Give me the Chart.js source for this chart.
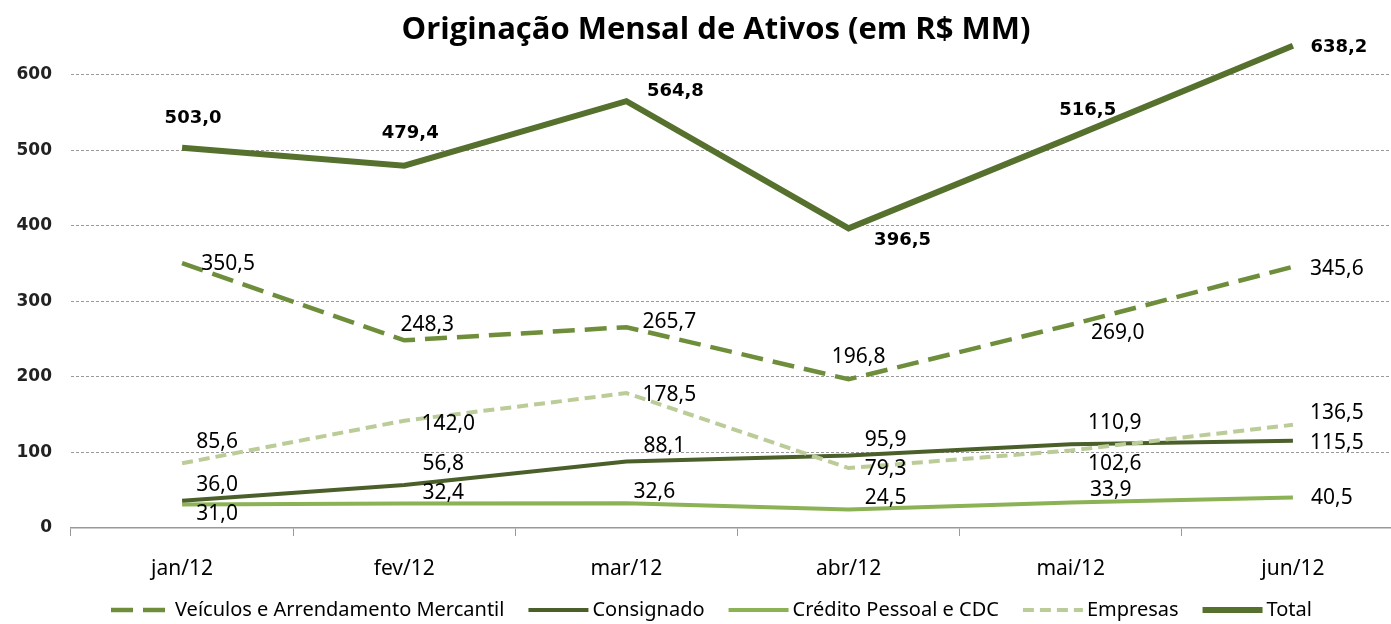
<!DOCTYPE html>
<html>
<head>
<meta charset="utf-8">
<script src="https://cdn.jsdelivr.net/npm/chart.js@4"></script>
<style>
html, body { margin: 0; padding: 0; background: #fff; overflow: hidden; }
#wrap { width: 1404px; height: 624px; position: relative; }
</style>
</head>
<body>
<div id="wrap"><canvas id="chart"></canvas></div>
<script>
// chart data
var months = ["jan/12", "fev/12", "mar/12", "abr/12", "mai/12", "jun/12"];
var veiculos = [350.5, 248.3, 265.7, 196.8, 269.0, 345.6];
var consignado = [36.0, 56.8, 88.1, 95.9, 110.9, 115.5];
var credito = [31.0, 32.4, 32.6, 24.5, 33.9, 40.5];
var empresas = [85.6, 142.0, 178.5, 79.3, 102.6, 136.5];
var total = [503.0, 479.4, 564.8, 396.5, 516.5, 638.2];
var yTicks = [0, 100, 200, 300, 400, 500, 600];
var chartTitle = "Originação Mensal de Ativos (em R$ MM)";

function fmt(v) {
    return v.toFixed(1).replace(".", ",");
}

// draws the value next to each point
var valueLabels = {
    id: "valueLabels",
    afterDatasetsDraw: function(chart, args, opts) {
        var ctx = chart.ctx;
        chart.data.datasets.forEach(function(ds, i) {
            var meta = chart.getDatasetMeta(i);
            var offs = opts.offsets[i];
            ctx.save();
            ctx.font = opts.fonts[i];
            ctx.fillStyle = "#000";
            ctx.textAlign = "center";
            ctx.textBaseline = "middle";
            meta.data.forEach(function(pt, j) {
                ctx.fillText(fmt(ds.data[j]), pt.x + offs[j][0], pt.y + offs[j][1]);
            });
            ctx.restore();
        });
    }
};

// title drawn over the top of the plot
var topTitle = {
    id: "topTitle",
    afterDraw: function(chart) {
        var ctx = chart.ctx;
        ctx.save();
        ctx.font = "bold 31px 'Open Sans'";
        ctx.fillStyle = "#000";
        ctx.textAlign = "center";
        ctx.textBaseline = "middle";
        ctx.fillText(chartTitle, 716, 30);
        ctx.restore();
    }
};

// legend row at the bottom, in dataset order, with the dashes of each line
var lineLegend = {
    id: "lineLegend",
    afterDraw: function(chart, args, opts) {
        var ctx = chart.ctx;
        var x = opts.x;
        var y = opts.y;
        ctx.save();
        ctx.font = opts.font;
        ctx.textBaseline = "middle";
        ctx.textAlign = "left";
        chart.data.datasets.forEach(function(ds) {
            ctx.beginPath();
            ctx.setLineDash(ds.borderDash || []);
            ctx.lineWidth = ds.borderWidth;
            ctx.strokeStyle = ds.borderColor;
            ctx.moveTo(x, y);
            ctx.lineTo(x + opts.lineLength, y);
            ctx.stroke();
            ctx.setLineDash([]);
            x += opts.lineLength + opts.textGap;
            ctx.fillStyle = "#000";
            ctx.fillText(ds.label, x, y);
            x += ctx.measureText(ds.label).width + opts.itemGap;
        });
        ctx.restore();
    }
};

var labelFont = "21px 'Noto Sans'";
var ctx = document.getElementById("chart");
var myChart = new Chart(ctx, {
    type: "line",
    data: {
        labels: months,
        datasets: [
            {
                label: "Veículos e Arrendamento Mercantil",
                data: veiculos,
                borderColor: "#6e8e3b",
                borderWidth: 4.5,
                borderDash: [22, 10],
                order: 2
            },
            {
                label: "Consignado",
                data: consignado,
                borderColor: "#4a5f2a",
                borderWidth: 4,
                order: 3
            },
            {
                label: "Crédito Pessoal e CDC",
                data: credito,
                borderColor: "#8cb256",
                borderWidth: 4,
                order: 4
            },
            {
                label: "Empresas",
                data: empresas,
                borderColor: "#bccc99",
                borderWidth: 4,
                borderDash: [11, 6],
                order: 1
            },
            {
                label: "Total",
                data: total,
                borderColor: "#56702d",
                borderWidth: 6,
                order: 0
            }
        ]
    },
    options: {
        responsive: true,
        maintainAspectRatio: false,
        animation: false,
        layout: { padding: { top: 28, left: 0, right: 0, bottom: 36 } },
        elements: {
            point: { radius: 0, hoverRadius: 0 },
            line: { tension: 0, fill: false, borderCapStyle: "butt" }
        },
        scales: {
            x: {
                offset: true,
                grid: {
                    drawOnChartArea: false,
                    offset: true,
                    tickLength: 8,
                    color: "#999"
                },
                border: { color: "#999", width: 1.5 },
                ticks: {
                    color: "#000",
                    font: { family: "Noto Sans", size: 21 },
                    padding: 20
                },
                afterFit: function(scale) { scale.height = 60; }
            },
            y: {
                min: 0,
                max: 660,
                afterBuildTicks: function(scale) {
                    scale.ticks = yTicks.map(function(v) { return { value: v }; });
                },
                grid: {
                    drawTicks: false,
                    color: function(c) { return c.tick && c.tick.value === 0 ? "rgba(0,0,0,0)" : "#9a9a9a"; }
                },
                border: { display: false, dash: [3, 2] },
                ticks: {
                    color: "#222",
                    font: { family: "DejaVu Sans", size: 17, weight: "bold" },
                    padding: 19
                },
                afterFit: function(scale) { scale.width = 71; }
            }
        },
        plugins: {
            legend: { display: false },
            tooltip: { enabled: false },
            lineLegend: {
                x: 111,
                y: 610,
                lineLength: 60,
                textGap: 4,
                itemGap: 24,
                font: "20px 'Noto Sans'"
            },
            valueLabels: {
                fonts: [labelFont, labelFont, labelFont, labelFont, "bold 18px 'DejaVu Sans'"],
                offsets: [
                    [[46, 1], [23, -15], [43, -5], [10, -22], [47, 8], [44, 2]],
                    [[35, -16], [39, -21], [38, -15], [37, -16], [44, -21], [44, 2]],
                    [[35, 9], [39, -10], [28, -11], [37, -11], [40, -12], [39, 1]],
                    [[35, -21], [44, 3], [43, 2], [37, 1], [44, 14], [44, -12]],
                    [[11, -30], [6, -32], [49, -10], [54, 12], [17, -27], [46, 2]]
                ]
            }
        }
    },
    plugins: [valueLabels, topTitle, lineLegend]
});
</script>
</body>
</html>
